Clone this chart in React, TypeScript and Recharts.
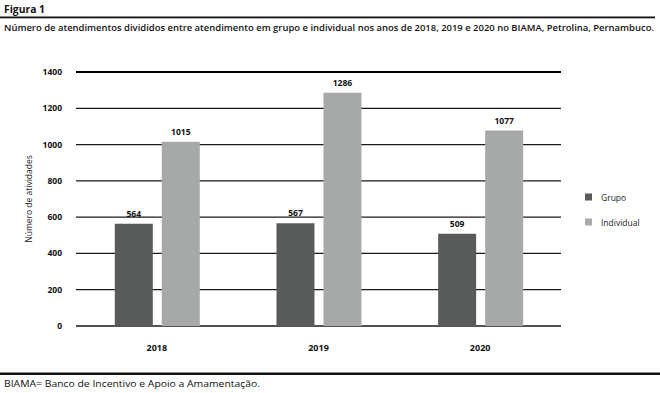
import { BarChart, Bar, XAxis, YAxis, CartesianGrid, ReferenceLine, LabelList } from "recharts";

const years = ["2018", "2019", "2020"];
const grupo = [564, 567, 509];
const individual = [1015, 1286, 1077];
const yTicks = [0, 200, 400, 600, 800, 1000, 1200, 1400];

const colors = {
  grupo: "#595b5b",
  individual: "#a7a9a9",
  line: "#1a1a1a",
};

const chartData = years.map((year, i) => ({
  year,
  Grupo: grupo[i],
  Individual: individual[i],
}));

const sans = "'Open Sans', 'DejaVu Sans', sans-serif";

const legendItems = [
  { name: "Grupo", color: colors.grupo, y: 197 },
  { name: "Individual", color: colors.individual, y: 222 },
];

const YLabel = ({ viewBox }: any) => {
  const x = 28;
  const y = viewBox.y + viewBox.height / 2;
  return (
    <text x={x} y={y} transform={`rotate(-90, ${x}, ${y})`} textAnchor="middle" dominantBaseline="central"
      fontSize={8.5} fontFamily={sans} fill="#222">
      Número de atividades
    </text>
  );
};

export default function App() {
  return (
    <div style={{ position: "absolute", left: 0, top: 0, width: 660, height: 393, background: "#fff", overflow: "hidden" }}>
      <div style={{ position: "absolute", left: 0, top: 0 }}>
        <BarChart width={660} height={393} data={chartData}
          margin={{ top: 72, right: 99, bottom: 37, left: 36 }}
          barCategoryGap="24%" barGap={9}>
          <CartesianGrid horizontal vertical={false} stroke={colors.line} strokeWidth={1.3} />
          <ReferenceLine y={1400} stroke="#000" strokeWidth={2.2} />
          <XAxis dataKey="year" axisLine={false} tickLine={false} tickSize={0} tickMargin={19} height={30}
            tick={{ fontSize: 9, fontWeight: 700, fill: "#111", fontFamily: sans }} />
          <YAxis domain={[0, 1400]} ticks={yTicks} axisLine={false} tickLine={false} tickSize={0} tickMargin={14} width={40}
            tick={{ fontSize: 8.5, fontWeight: 700, fill: "#111", fontFamily: sans }}
            label={<YLabel />} />
          <Bar dataKey="Grupo" fill={colors.grupo} isAnimationActive={false}>
            <LabelList dataKey="Grupo" position="top" offset={7} fontSize={8.5} fontWeight={700} fill="#111" fontFamily={sans} />
          </Bar>
          <Bar dataKey="Individual" fill={colors.individual} isAnimationActive={false}>
            <LabelList dataKey="Individual" position="top" offset={7} fontSize={8.5} fontWeight={700} fill="#111" fontFamily={sans} />
          </Bar>
        </BarChart>
      </div>

      {/* titles, rules, legend and footnote */}
      <svg width={660} height={393} style={{ position: "absolute", left: 0, top: 0, pointerEvents: "none" }}>
        <text x={4} y={13} fontFamily={sans} fontWeight={700} fontSize={11} fill="#111" textLength={41} lengthAdjust="spacingAndGlyphs">
          Figura 1
        </text>
        <rect x={0} y={16.5} width={655} height={1.8} fill="#111" />
        <text x={4} y={31} fontFamily={sans} fontWeight={600} fontSize={9.5} fill="#111" textLength={650} lengthAdjust="spacingAndGlyphs">
          Número de atendimentos divididos entre atendimento em grupo e individual nos anos de 2018, 2019 e 2020 no BIAMA, Petrolina, Pernambuco.
        </text>

        {legendItems.map((item) => (
          <g key={item.name}>
            <rect x={585} y={item.y - 3.5} width={7} height={7} fill={item.color} />
            <text x={601} y={item.y} dominantBaseline="central" fontFamily={sans} fontSize={8.5} fill="#222">
              {item.name}
            </text>
          </g>
        ))}

        <rect x={0} y={372.5} width={660} height={2.5} fill="#111" />
        <text x={4} y={387} fontFamily={sans} fontSize={9} fill="#111" textLength={256} lengthAdjust="spacingAndGlyphs">
          BIAMA= Banco de Incentivo e Apoio a Amamentação.
        </text>
      </svg>
    </div>
  );
}
